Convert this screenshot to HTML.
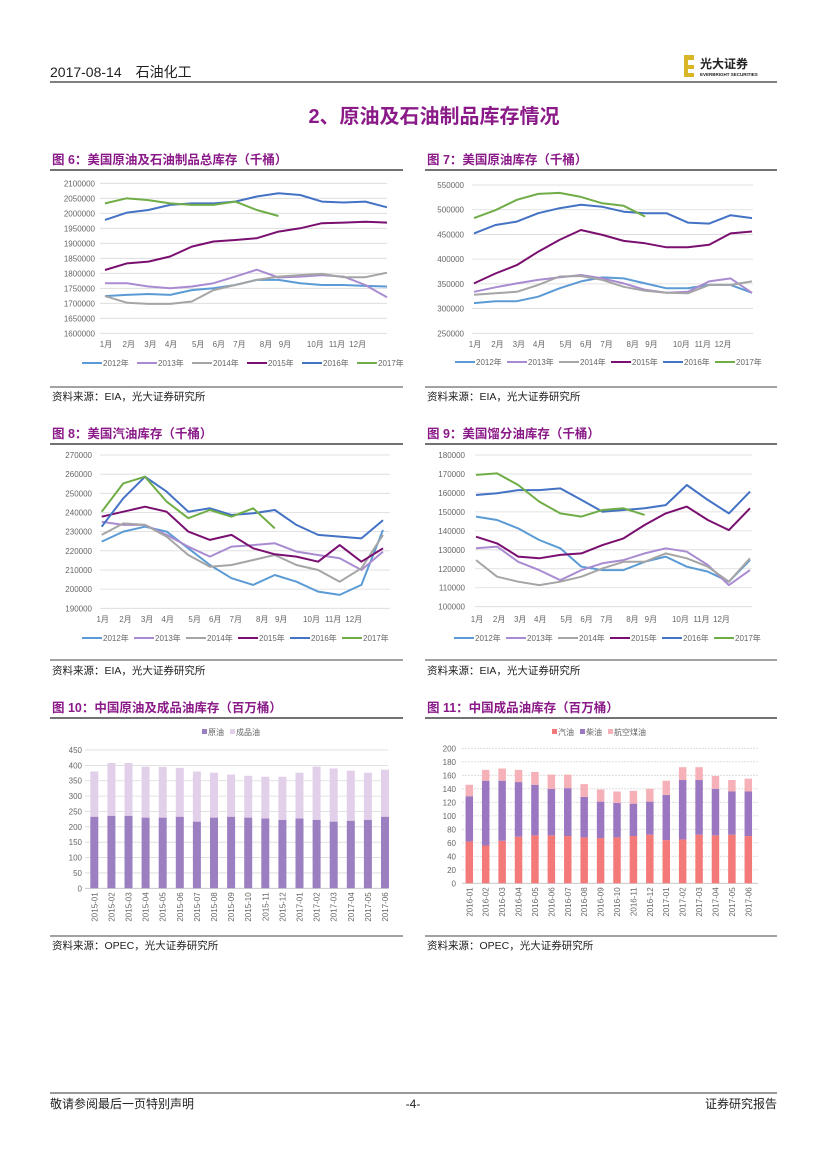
<!DOCTYPE html>
<html><head><meta charset="utf-8"><style>
body{margin:0;background:#fff;}
svg{display:block;font-family:"Liberation Sans","Noto Sans CJK SC",sans-serif;}
.ax{font-size:8px;fill:#666;}
.ttl{font-size:12.5px;font-weight:bold;fill:#8b1a89;}
.src{font-size:10.5px;fill:#222;}
</style></head><body>
<svg id="pg" width="827" height="1169" viewBox="0 0 827 1169">
<text x="50" y="77" font-size="14" fill="#222">2017-08-14　石油化工</text>
<line x1="50" y1="82" x2="777" y2="82" stroke="#333" stroke-width="1.2"/>
<g>
<rect x="684" y="55" width="10" height="22" fill="#d9b628"/><rect x="688" y="60" width="6" height="5" fill="#fff"/><rect x="688" y="69" width="6" height="4" fill="#fff"/>
<text x="700" y="68" font-size="12" font-weight="bold" fill="#222">光大证券</text>
<text x="700" y="76" font-size="4.5" font-weight="bold" fill="#222">EVERBRIGHT SECURITIES</text>
</g>
<text x="434" y="123" font-size="20" font-weight="bold" fill="#8b1a89" text-anchor="middle">2、原油及石油制品库存情况</text>

<text class="ttl" x="52" y="164">图 6：美国原油及石油制品总库存（千桶）</text>
<text class="ttl" x="427" y="164">图 7：美国原油库存（千桶）</text>
<text class="ttl" x="52" y="438">图 8：美国汽油库存（千桶）</text>
<text class="ttl" x="427" y="438">图 9：美国馏分油库存（千桶）</text>
<text class="ttl" x="52" y="712">图 10：中国原油及成品油库存（百万桶）</text>
<text class="ttl" x="427" y="712">图 11：中国成品油库存（百万桶）</text>

<g stroke="#444">
<line x1="50" y1="170" x2="403" y2="170" stroke-width="1.5"/><line x1="425" y1="170" x2="777" y2="170" stroke-width="1.5"/>
<line x1="50" y1="387" x2="403" y2="387"/><line x1="425" y1="387" x2="777" y2="387"/>
<line x1="50" y1="444" x2="403" y2="444" stroke-width="1.5"/><line x1="425" y1="444" x2="777" y2="444" stroke-width="1.5"/>
<line x1="50" y1="660" x2="403" y2="660"/><line x1="425" y1="660" x2="777" y2="660"/>
<line x1="50" y1="718" x2="403" y2="718" stroke-width="1.5"/><line x1="425" y1="718" x2="777" y2="718" stroke-width="1.5"/>
<line x1="50" y1="936" x2="403" y2="936"/><line x1="425" y1="936" x2="777" y2="936"/>
</g>
<text class="src" x="52" y="400">资料来源：EIA，光大证券研究所</text>
<text class="src" x="427" y="400">资料来源：EIA，光大证券研究所</text>
<text class="src" x="52" y="674">资料来源：EIA，光大证券研究所</text>
<text class="src" x="427" y="674">资料来源：EIA，光大证券研究所</text>
<text class="src" x="52" y="949">资料来源：OPEC，光大证券研究所</text>
<text class="src" x="427" y="949">资料来源：OPEC，光大证券研究所</text>

<line x1="50" y1="1093" x2="777" y2="1093" stroke="#333"/>
<text x="50" y="1108" font-size="12" fill="#222">敬请参阅最后一页特别声明</text>
<text x="413" y="1108" font-size="12" fill="#222" text-anchor="middle">-4-</text>
<text x="777" y="1108" font-size="12" fill="#222" text-anchor="end">证券研究报告</text>
</svg>
<script>
const weeks=[0,4,8,12,16,20,24,28,32,36,40,44,48,52];
const weeks17=[0,4,8,12,16,20,24,28,32];
const years=["2012年","2013年","2014年","2015年","2016年","2017年"];
const monthLabels=["1月","2月","3月","4月","5月","6月","7月","8月","9月","10月","11月","12月"];
const monthWeeks=[0,4.2,8.2,12,17,20.8,24.6,29.5,33,38.6,42.6,46.4];
// fig6 total stocks (thousand bbl / 1000)
const f6_2012=[1724,1728,1731,1728,1744,1750,1761,1778,1778,1767,1761,1761,1758,1756];
const f6_2013=[1767,1767,1756,1750,1756,1767,1789,1812,1786,1789,1794,1789,1761,1720];
const f6_2014=[1724,1702,1698,1698,1706,1744,1761,1778,1789,1794,1798,1787,1787,1802];
const f6_2015=[1811,1833,1839,1856,1889,1906,1911,1917,1939,1950,1967,1969,1972,1969];
const f6_2016=[1978,2002,2011,2028,2033,2033,2039,2056,2067,2061,2039,2036,2039,2020];
const f6_2017=[2033,2050,2044,2033,2028,2028,2039,2011,1991];
const f6_ticks=[1600000,1650000,1700000,1750000,1800000,1850000,1900000,1950000,2000000,2050000,2100000];
// fig7 crude
const f7_2012=[311,315,315,324,341,355,363,361,351,341,341,348,348,332];
const f7_2013=[334,343,351,358,363,368,361,351,338,332,334,355,361,332];
const f7_2014=[328,331,334,348,365,366,358,344,336,332,331,348,348,355];
const f7_2015=[351,371,388,415,439,459,449,437,432,424,424,429,452,456];
const f7_2016=[452,469,476,493,503,510,506,496,493,493,474,472,489,483];
const f7_2017=[483,499,520,532,534,526,513,508,486];
const f7_ticks=[250000,300000,350000,400000,450000,500000,550000];
// fig8 gasoline
const f8_2012=[224.8,230,232.6,230,221.3,212.6,205.7,202.2,207.4,203.9,198.7,197,202.2,230.9];
const f8_2013=[235.2,233.5,233.5,228.3,222.2,217,222.2,223,223.9,219.6,217.8,216.1,210,219.6];
const f8_2014=[228.3,234.3,233.5,227.4,217.8,211.7,212.6,215.2,217.8,212.6,210,203.9,210.9,228.3];
const f8_2015=[237.8,240.4,243,240.4,230,225.7,228.3,221.3,218.2,217,214.3,223,214.3,221.3];
const f8_2016=[232.6,247.4,258.7,250.9,240.4,242.2,238.7,239.6,241.3,233.5,228.3,227.4,226.5,236];
const f8_2017=[240.4,255.2,258.7,245.7,237,241.3,237.8,242.2,231.7];
const f8_ticks=[190000,200000,210000,220000,230000,240000,250000,260000,270000];
// fig9 distillate
const f9_2012=[147.5,145.7,141.3,135.2,130.8,121.1,119.3,119.3,123.7,126.4,121.1,118.5,113.2,124.6];
const f9_2013=[130.8,131.7,123.7,119.3,114,119.3,122.9,124.6,128.1,130.8,129,122,111.4,119.3];
const f9_2014=[124.6,115.8,113.2,111.4,113.2,115.8,120.2,123.7,123.7,128.1,125.5,121.1,113.2,125.5];
const f9_2015=[136.9,133.4,126.4,125.5,127.3,128.1,132.5,136,143.1,149.2,152.8,145.7,140.4,151.9];
const f9_2016=[158.9,159.8,161.5,161.5,162.4,156.3,150.1,151,151.9,153.6,164.2,156.3,149.2,160.7];
const f9_2017=[169.5,170.3,164.2,155.4,149.2,147.5,151,151.9,148.4];
const f9_ticks=[100000,110000,120000,130000,140000,150000,160000,170000,180000];
// fig10
const f10_cats=["2015-01","2015-02","2015-03","2015-04","2015-05","2015-06","2015-07","2015-08","2015-09","2015-10","2015-11","2015-12","2017-01","2017-02","2017-03","2017-04","2017-05","2017-06"];
const f10_crude=[233,236,236,230,230,233,217,230,233,230,227,223,227,223,217,220,223,233];
const f10_products=[147,172,172,166,165,159,163,146,137,136,136,140,149,173,173,163,153,153];
const f10_ticks=[0,50,100,150,200,250,300,350,400,450];
// fig11
const f11_cats=["2016-01","2016-02","2016-03","2016-04","2016-05","2016-06","2016-07","2016-08","2016-09","2016-10","2016-11","2016-12","2017-01","2017-02","2017-03","2017-04","2017-05","2017-06"];
const f11_gasoline=[62,56,63,69,71,71,70,68,67,68,70,72,64,65,72,71,72,70];
const f11_diesel=[67,96,89,81,75,69,71,60,54,51,48,49,67,88,81,69,64,66];
const f11_jet=[17,16,18,18,19,21,20,19,18,17,19,19,21,19,19,19,17,19];
const f11_ticks=[0,20,40,60,80,100,120,140,160,180,200];

const NS="http://www.w3.org/2000/svg";
const pg=document.getElementById('pg');
function mk(tag,attrs,parent){const e=document.createElementNS(NS,tag);for(const k in attrs)e.setAttribute(k,attrs[k]);(parent||pg).appendChild(e);return e;}
const colors=["#5b9bd5","#a98bd1","#a5a5a5","#7a0f70","#4472c4","#70ad47"];

function lineChart(id,cfg,series){
  const g=mk('g',{});
  
  
  const ymin=cfg.ticks[0],ymax=cfg.ticks[cfg.ticks.length-1];
  const ys=v=>cfg.yb-(v*cfg.scale-ymin)/(ymax-ymin)*(cfg.yb-cfg.yt);
  const xs=w=>cfg.x0+w/52*(cfg.x1-cfg.x0);
  cfg.ticks.forEach(t=>{
    const y=ys(t/cfg.scale);
    const gl=mk('line',{x1:cfg.gl,x2:cfg.gr,y1:y,y2:y,stroke:'#d9d9d9','stroke-width':0.8},g);
    
    
    const tx=mk('text',{x:cfg.lx,y:y+3,'text-anchor':'end',class:'ax'},g);
    tx.textContent=t;
    
    
  });
  monthLabels.forEach((m,i)=>{
    const tx=mk('text',{x:xs(monthWeeks[i])+1,y:cfg.my,'text-anchor':'middle',class:'ax'},g);
    tx.textContent=m;
    
    
  });
  series.forEach((s,i)=>{
    const wk=s.length===weeks.length?weeks:weeks17;
    const pts=s.map((v,j)=>xs(wk[j]).toFixed(1)+','+ys(v).toFixed(1)).join(' ');
    const p=mk('polyline',{points:pts,fill:'none',stroke:colors[i],'stroke-width':2,'stroke-linejoin':'round'},g);
    
    
  });
  years.forEach((yr,i)=>{
    const x=cfg.legx+i*cfg.legdx;
    const le=mk('g',{},g);
    
    
    mk('line',{x1:x,x2:x+20,y1:cfg.legy-3,y2:cfg.legy-3,stroke:colors[i],'stroke-width':2},le);
    const tx=mk('text',{x:x+21,y:cfg.legy,class:'ax'},le);
    tx.textContent=yr;
  });
}
lineChart('fig6',{ticks:f6_ticks,scale:1000,yt:183.3,yb:333.3,x0:105,x1:387,gl:100,gr:387,lx:95,my:347,legx:82,legdx:55,legy:366},[f6_2012,f6_2013,f6_2014,f6_2015,f6_2016,f6_2017]);
lineChart('fig7',{ticks:f7_ticks,scale:1000,yt:185,yb:333.3,x0:474,x1:752,gl:472,gr:753,lx:464,my:347,legx:455,legdx:52,legy:365},[f7_2012,f7_2013,f7_2014,f7_2015,f7_2016,f7_2017]);
lineChart('fig8',{ticks:f8_ticks,scale:1000,yt:455,yb:608.3,x0:101.7,x1:383,gl:100,gr:390,lx:92,my:622,legx:82,legdx:52,legy:641},[f8_2012,f8_2013,f8_2014,f8_2015,f8_2016,f8_2017]);
lineChart('fig9',{ticks:f9_ticks,scale:1000,yt:455,yb:606.7,x0:476,x1:750,gl:475,gr:752,lx:465,my:622,legx:454,legdx:52,legy:641},[f9_2012,f9_2013,f9_2014,f9_2015,f9_2016,f9_2017]);

function barChart(id,cfg,cats,stacks,cols,names){
  const g=mk('g',{});
  
  
  const ymax=cfg.ticks[cfg.ticks.length-1];
  const ys=v=>cfg.yb-v/ymax*(cfg.yb-cfg.yt);
  const xs=i=>cfg.c0+i*(cfg.c1-cfg.c0)/(cats.length-1);
  cfg.ticks.forEach(t=>{
    const y=ys(t);
    const gl=mk('line',{x1:cfg.gl,x2:cfg.gr,y1:y,y2:y,stroke:t===0?'#bfbfbf':'#d9d9d9','stroke-width':0.8,'stroke-dasharray':cfg.dash&&t!==0?'2,1':'none'},g);
    
    
    const tx=mk('text',{x:cfg.lx,y:y+3,'text-anchor':'end',class:'ax'},g);
    tx.textContent=t;
    
    
  });
  cats.forEach((c,i)=>{
    let acc=0;
    stacks.forEach((s,k)=>{
      const y0=ys(acc),y1=ys(acc+s[i]);acc+=s[i];
      const r=mk('rect',{x:xs(i)-cfg.bw/2,y:y1,width:cfg.bw,height:y0-y1,fill:cols[k]},g);
      
      
    });
    const tx=mk('text',{x:0,y:0,'text-anchor':'end',class:'ax',transform:'translate('+(xs(i)+3)+','+(cfg.yb+4)+') rotate(-90)'},g);
    tx.textContent=c;
    
    
  });
  let lx=cfg.legx;
  names.forEach((n,k)=>{
    const le=mk('g',{},g);
    
    
    mk('rect',{x:lx,y:cfg.legy-6,width:5,height:5,fill:cols[k]},le);
    const tx=mk('text',{x:lx+6,y:cfg.legy,class:'ax'},le);
    tx.textContent=n;
    lx+=12+n.length*8;
  });
}
barChart('fig10',{ticks:f10_ticks,yt:750,yb:888.3,c0:94.3,c1:385,bw:8,gl:85,gr:388,lx:82,legx:202,legy:735},f10_cats,[f10_crude,f10_products],["#9b7fc1","#e2d0ea"],["原油","成品油"]);
barChart('fig11',{ticks:f11_ticks,yt:748.3,yb:883.3,c0:469.3,c1:748.3,bw:7.5,gl:462,gr:758,lx:456,legx:552,legy:735,dash:true},f11_cats,[f11_gasoline,f11_diesel,f11_jet],["#f47a7a","#9b77c2","#f6b1b8"],["汽油","柴油","航空煤油"]);
</script>
</body></html>
